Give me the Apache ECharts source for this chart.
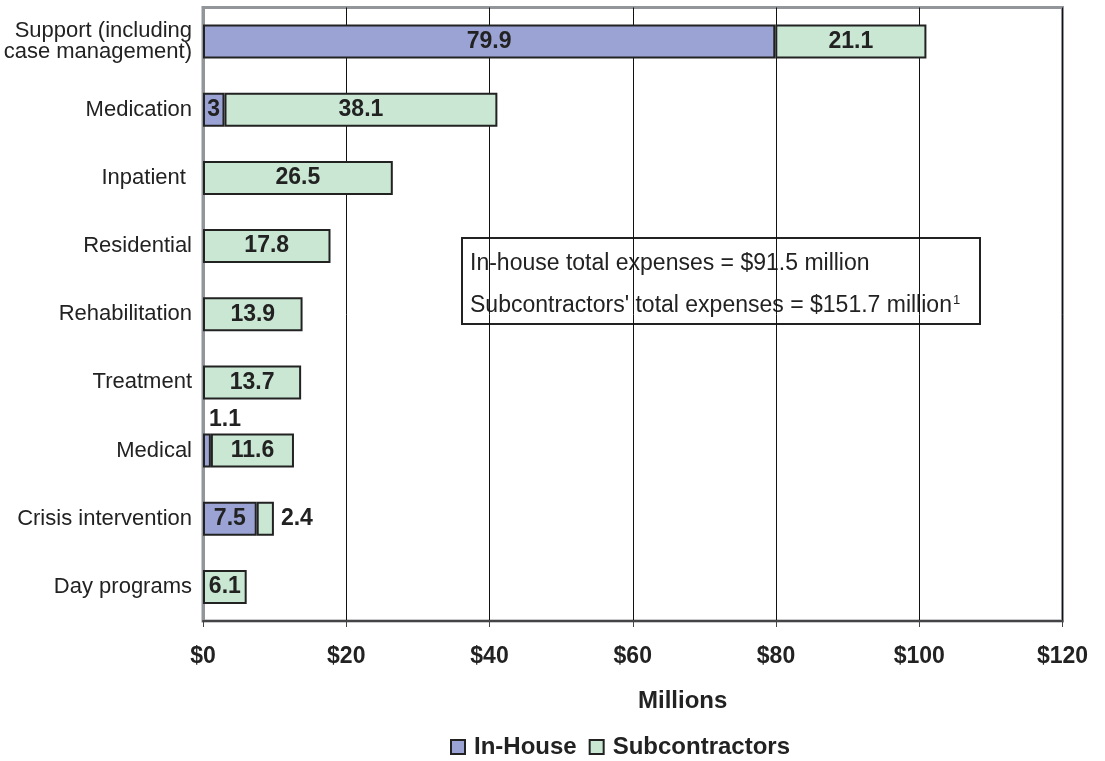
<!DOCTYPE html>
<html>
<head>
<meta charset="utf-8">
<script src="https://cdn.jsdelivr.net/npm/echarts@6/dist/echarts.min.js"></script>
<style>
  html, body { margin: 0; padding: 0; background: #fff; }
  #chart { width: 1105px; height: 761px; }
</style>
</head>
<body>
<div id="chart"></div>
<script>
// Service categories, listed top to bottom
const categories = [
  'Support (including\ncase management)',
  'Medication',
  'Inpatient ',
  'Residential',
  'Rehabilitation',
  'Treatment',
  'Medical',
  'Crisis intervention',
  'Day programs'
];
// Expenses in millions of dollars (null = none reported)
const inHouse        = [79.9, 3, null, null, null, null, 1.1, 7.5, null];
const subcontractors = [21.1, 38.1, 26.5, 17.8, 13.9, 13.7, 11.6, 2.4, 6.1];
const xTicks = [0, 20, 40, 60, 80, 100, 120];

const SANS = '"Liberation Sans", Arial, Helvetica, sans-serif';

const valueLabel = {
  show: true,
  position: 'inside',
  formatter: p => String(p.value),
  fontFamily: SANS,
  fontWeight: 'bold',
  fontSize: 23,
  color: '#222'
};

// Small segments get their labels moved outside the bar
const inHouseData = inHouse.map((v, i) => {
  if (categories[i] === 'Medical') {
    return { value: v, label: { position: [6, -25], align: 'left' } };
  }
  return v;
});
const subData = subcontractors.map((v, i) => {
  if (categories[i] === 'Crisis intervention') {
    return { value: v, label: { position: 'right', distance: 7 } };
  }
  return v;
});

const chart = echarts.init(document.getElementById('chart'));
chart.setOption({
  animation: false,
  backgroundColor: '#fff',
  grid: {
    left: 203, right: 42.5, top: 7.5, bottom: 140,
    outerBoundsMode: 'none',
    containLabel: false,
    show: true, borderColor: '#92969b', borderWidth: 3
  },
  legend: {
    left: 450, top: 735, padding: 0,
    itemWidth: 14, itemHeight: 14, itemGap: 12,
    icon: 'rect',
    textStyle: { fontFamily: SANS, fontWeight: 'bold', fontSize: 24, color: '#222', padding: [0, 0, 0, 4] },
    data: ['In-House', 'Subcontractors']
  },
  xAxis: {
    type: 'value',
    min: xTicks[0], max: xTicks[xTicks.length - 1], interval: 20,
    axisLine: { show: true, lineStyle: { color: '#444', width: 2 } },
    axisTick: { show: true, length: 6, lineStyle: { color: '#444', width: 1 } },
    axisLabel: {
      margin: 24,
      formatter: v => '$' + v,
      fontFamily: SANS, fontWeight: 'bold', fontSize: 23, color: '#222'
    },
    splitLine: { show: true, lineStyle: { color: '#111', width: 1 } }
  },
  yAxis: {
    type: 'category',
    inverse: true,
    data: categories,
    axisLine: { show: true, lineStyle: { color: '#92969b', width: 3 } },
    axisTick: { show: false },
    axisLabel: {
      margin: 11,
      fontFamily: SANS, fontSize: 22, lineHeight: 21, color: '#222'
    }
  },
  series: [
    {
      name: 'In-House',
      type: 'bar',
      stack: 'total',
      barWidth: 34,
      data: inHouseData,
      itemStyle: { color: '#9aa3d4', borderColor: '#222', borderWidth: 2 },
      label: valueLabel
    },
    {
      name: 'Subcontractors',
      type: 'bar',
      stack: 'total',
      barWidth: 34,
      data: subData,
      itemStyle: { color: '#c9e7d3', borderColor: '#222', borderWidth: 2 },
      label: valueLabel
    }
  ],
  graphic: [
    // x-axis title
    {
      type: 'text',
      left: 638, top: 689,
      style: {
        text: 'Millions',
        fontFamily: SANS, fontWeight: 'bold', fontSize: 24, fill: '#222'
      }
    },
    // totals box
    {
      type: 'group',
      left: 461, top: 237,
      children: [
        {
          type: 'rect',
          shape: { x: 0, y: 0, width: 518, height: 86 },
          style: { fill: '#fff', stroke: '#222', lineWidth: 2 }
        },
        {
          type: 'text',
          x: 8, y: 26,
          style: {
            text: 'In-house total expenses = $91.5 million',
            fontFamily: SANS, fontSize: 23, fill: '#222',
            verticalAlign: 'middle'
          }
        },
        {
          type: 'text',
          x: 8, y: 68,
          style: {
            text: "Subcontractors' total expenses = $151.7 million{sup|1}",
            fontFamily: SANS, fontSize: 23, fill: '#222',
            verticalAlign: 'middle',
            rich: {
              sup: { fontFamily: SANS, fontSize: 13, fill: '#222', verticalAlign: 'top', padding: [0, 0, 12, 1] }
            }
          }
        }
      ]
    }
  ]
});
</script>
</body>
</html>
